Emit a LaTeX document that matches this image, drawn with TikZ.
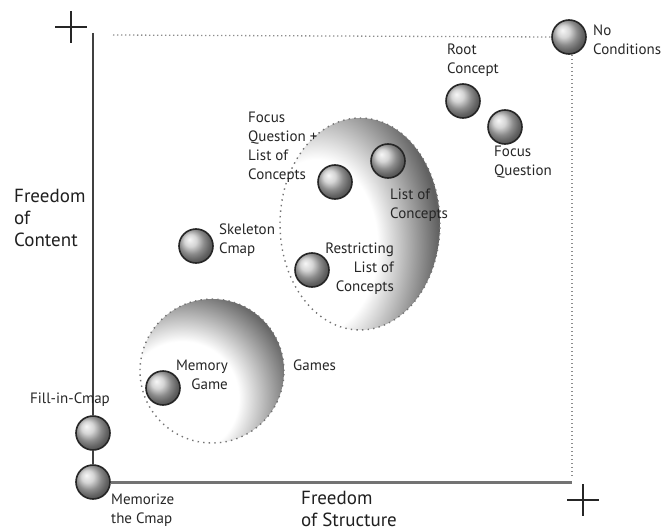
\documentclass[tikz,border=0pt]{standalone}
\usepackage{fontspec}
\setmainfont{PT Sans}
\pgfdeclareradialshading{rimshade}{\pgfpointorigin}{color(0bp)=(white); color(12bp)=(white); color(24bp)=(black!62); color(50bp)=(black!62)}
\begin{document}
\begin{tikzpicture}[x=1pt,y=-1pt,
  ballnode/.style={circle, minimum size=34pt, inner sep=0pt, ball color=black!22, draw=black!85, line width=1.6pt},
  lbl/.style={font=\fontsize{15}{19}\selectfont, text=black!85, inner sep=0pt, align=left},
  axlbl/.style={font=\fontsize{19}{22}\selectfont, text=black!88, inner sep=0pt, align=left},
  gdots/.style={draw=black!45, line width=1.3pt, dash pattern=on 1.3pt off 2.7pt},
  edots/.style={draw=black!55, line width=1.4pt, dash pattern=on 1.4pt off 4.2pt},
  yaxis/.style={draw=black!75, line width=1.3pt},
  xaxis/.style={draw=black!55, line width=3pt},
  plusmark/.style={draw=black!85, line width=2.6pt}]
\useasboundingbox (0,0) rectangle (666,532);

% shaded regions
\begin{scope}
  \clip (360,224) ellipse [x radius=80pt, y radius=106pt];
  \shade[shading=rimshade] (316,246) ellipse [x radius=128pt, y radius=180pt];
\end{scope}
\draw[edots] (360,224) ellipse [x radius=80pt, y radius=106pt];
\begin{scope}
  \clip (212,371) circle (72pt);
  \shade[shading=rimshade] (182,398) circle (118pt);
\end{scope}
\draw[edots] (212,371) circle (72pt);

% plus marks
\draw[plusmark] (55,27) -- (87,27) (71,11) -- (71,43);
\draw[plusmark] (567,500) -- (599,500) (583,484) -- (583,516);

% balls
\node[ballnode] (nocond) at (569,37) {};
\node[ballnode] (root) at (463,101) {};
\node[ballnode] (focusq) at (505,127) {};
\node[ballnode] (listc) at (388,161) {};
\node[ballnode] (fqlc) at (335,182) {};
\node[ballnode] (restr) at (312,270) {};
\node[ballnode] (skel) at (196,246) {};
\node[ballnode] (memgame) at (163,388) {};
\node[ballnode] (fillin) at (93,433) {};
\node[ballnode] (memorize) at (93,482) {};

% axes and dotted borders
\coordinate (ytop) at (93,33);
\coordinate (xend) at (572,482);
\coordinate (dleft) at (113,35);
\coordinate (dtop) at (572,55);
\coordinate (dbot) at (572,477);
\draw[gdots] (dleft) -- (nocond.west);
\draw[gdots] (dtop) -- (dbot);
\draw[yaxis] (ytop) -- (fillin.north);
\draw[yaxis] (fillin.south) -- (memorize.north);
\draw[xaxis] (memorize.east) -- (xend);

% labels
\node[lbl, anchor=west] (tnocond) at (593,40) {No\\Conditions};
\node[lbl, anchor=west] (troot) at (447,60) {Root\\Concept};
\node[lbl, anchor=west] (tfocusq) at (494,162) {Focus\\Question};
\node[lbl, anchor=west] (tlistc) at (390,205) {List of\\Concepts};
\node[lbl, anchor=west] (tfqlc) at (248,147) {Focus\\Question +\\List of\\Concepts};
\node[lbl, anchor=west] (tskel) at (219,240) {Skeleton\\Cmap};
\node[lbl, anchor=east, align=right] (trestr) at (394,269) {Restricting\\List of\\Concepts};
\node[lbl, anchor=east, align=right] (tmemgame) at (228,375) {Memory\\Game};
\node[lbl, anchor=west] (tgames) at (293,365) {Games};
\node[lbl, anchor=west] (tfillin) at (30,400) {Fill-in-Cmap};
\node[lbl, anchor=west] (tmemorize) at (111,510) {Memorize\\the Cmap};
\node[axlbl, anchor=west] (tstruct) at (301,509) {Freedom\\of Structure};
\node[axlbl, anchor=west] (tcontent) at (14,218) {Freedom\\of\\Content};
\end{tikzpicture}
\end{document}
